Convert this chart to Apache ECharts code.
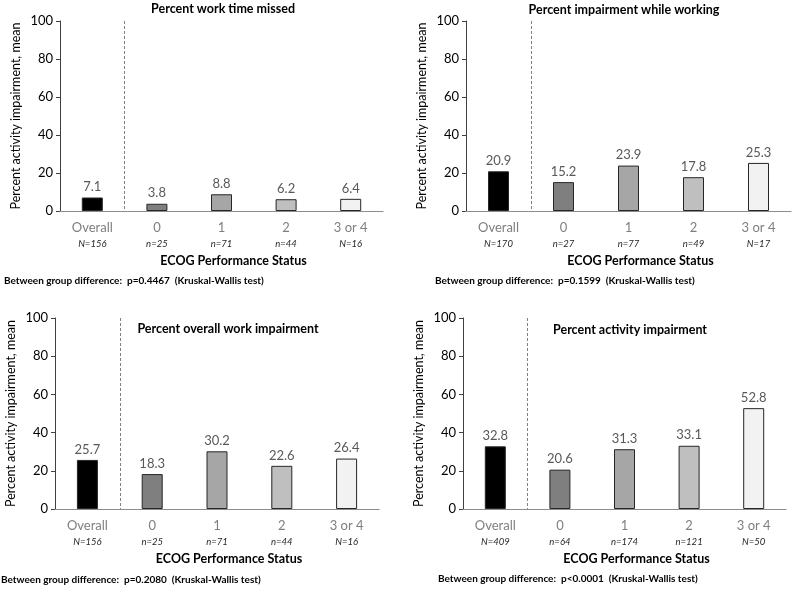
<!DOCTYPE html>
<html>
<head>
<meta charset="utf-8">
<script src="https://cdn.jsdelivr.net/npm/echarts@6/dist/echarts.min.js"></script>
<style>
html,body{margin:0;padding:0;background:#fff;}
#chart{width:793px;height:590px;}
</style>
</head>
<body>
<div id="chart"></div>
<script>
const categories = ['Overall', '0', '1', '2', '3 or 4'];
const barColors = ['#000000', '#7f7f7f', '#a6a6a6', '#bfbfbf', '#f2f2f2'];
const yTicks = { min: 0, max: 100, interval: 20 };

const workTimeMissed = [7.1, 3.8, 8.8, 6.2, 6.4];
const workTimeMissedN = ['N=156', 'n=25', 'n=71', 'n=44', 'N=16'];
const impairmentWhileWorking = [20.9, 15.2, 23.9, 17.8, 25.3];
const impairmentWhileWorkingN = ['N=170', 'n=27', 'n=77', 'n=49', 'N=17'];
const overallWorkImpairment = [25.7, 18.3, 30.2, 22.6, 26.4];
const overallWorkImpairmentN = ['N=156', 'n=25', 'n=71', 'n=44', 'N=16'];
const activityImpairment = [32.8, 20.6, 31.3, 33.1, 52.8];
const activityImpairmentN = ['N=409', 'n=64', 'n=174', 'n=121', 'N=50'];

const panelTitles = ['Percent work time missed', 'Percent impairment while working', 'Percent overall work impairment', 'Percent activity impairment'];
const pValues = ['p=0.4467', 'p=0.1599', 'p=0.2080', 'p<0.0001'];
const xName = 'ECOG Performance Status';
const yName = 'Percent activity impairment, mean';

// half-category slots used only to place the dashed divider after "Overall"
const dividerSlots = ['', '', '', '', '', '', '', '', '', '', ''];
const dividerSlotIndex = 2;

const FONT = 'Lato, "Liberation Sans", sans-serif';

const panels = [
  { values: workTimeMissed, ns: workTimeMissedN, grid: { left: 60, top: 21, width: 323, height: 190 }, title: { x: 223, y: 2 }, foot: { x: 4, y: 272 } },
  { values: impairmentWhileWorking, ns: impairmentWhileWorkingN, grid: { left: 466, top: 21, width: 325, height: 190 }, title: { x: 624, y: 3 }, foot: { x: 435, y: 272 } },
  { values: overallWorkImpairment, ns: overallWorkImpairmentN, grid: { left: 55, top: 318, width: 324, height: 191 }, title: { x: 228, y: 322 }, foot: { x: 1, y: 571 } },
  { values: activityImpairment, ns: activityImpairmentN, grid: { left: 463, top: 318, width: 323, height: 191 }, title: { x: 630, y: 323 }, foot: { x: 438, y: 570 } }
];

const grids = [], xAxes = [], yAxes = [], series = [], titles = [];
panels.forEach((p, i) => {
  grids.push(Object.assign({ containLabel: false }, p.grid));
  xAxes.push({
    type: 'category', gridIndex: i, data: categories,
    axisLine: { lineStyle: { color: '#8c8c8c', width: 1.2 } },
    axisTick: { show: false },
    splitLine: { show: false },
    axisLabel: {
      margin: 8, interval: 0,
      formatter: (v, idx) => '{c|' + v + '}\n{n|' + p.ns[idx] + '}',
      rich: {
        c: { fontFamily: FONT, fontSize: 13, color: '#7f7f7f', lineHeight: 17 },
        n: { fontFamily: FONT, fontSize: 9.5, fontStyle: 'italic', color: '#262626', lineHeight: 15 }
      }
    },
    name: xName, nameLocation: 'middle', nameGap: 43,
    nameTextStyle: { fontFamily: FONT, fontSize: 12.5, fontWeight: 'bold', color: '#000', padding: [0, 0, 0, 24] },
    z: 3
  });
  // hidden helper axis, only draws the dashed divider
  xAxes.push({
    type: 'category', gridIndex: i, data: dividerSlots, boundaryGap: false,
    position: 'bottom',
    axisLine: { show: false }, axisTick: { show: false }, axisLabel: { show: false },
    splitLine: { show: true, interval: (idx) => idx === dividerSlotIndex, lineStyle: { type: [3, 2], color: '#7f7f7f', width: 1 } }
  });
  yAxes.push({
    type: 'value', gridIndex: i, min: yTicks.min, max: yTicks.max, interval: yTicks.interval,
    axisLine: { show: true, lineStyle: { color: '#404040', width: 1 } },
    axisTick: { show: true, length: 4, lineStyle: { color: '#404040' } },
    splitLine: { show: false },
    axisLabel: { fontFamily: FONT, fontSize: 13, color: '#000', margin: 7 },
    name: yName, nameLocation: 'middle', nameGap: 38,
    nameTextStyle: { fontFamily: FONT, fontSize: 12.5, color: '#000' }
  });
  series.push({
    type: 'bar', xAxisIndex: i * 2, yAxisIndex: i, barWidth: 21,
    data: p.values.map((v, k) => ({ value: v, itemStyle: { color: barColors[k] } })),
    itemStyle: { borderColor: '#262626', borderWidth: 1 },
    label: { show: true, position: 'top', distance: 4, fontFamily: FONT, fontSize: 13, color: '#595959', formatter: (d) => d.value.toFixed(1) },
    silent: true, animation: false
  });
  titles.push({
    text: panelTitles[i], left: p.title.x, top: p.title.y, textAlign: 'center', padding: 0,
    textStyle: { fontFamily: FONT, fontSize: 12.5, fontWeight: 'bold', color: '#000' }
  });
  titles.push({
    text: '{b|Between group difference:} {r|' + pValues[i] + '  (Kruskal-Wallis test)}',
    left: p.foot.x, top: p.foot.y, padding: 0,
    textStyle: {
      rich: {
        b: { fontFamily: FONT, fontSize: 10, fontWeight: 'bold', color: '#000' },
        r: { fontFamily: FONT, fontSize: 10, color: '#000' }
      }
    }
  });
});

const chart = echarts.init(document.getElementById('chart'), null, { renderer: 'canvas' });
chart.setOption({
  backgroundColor: '#ffffff',
  animation: false,
  title: titles,
  grid: grids,
  xAxis: xAxes,
  yAxis: yAxes,
  series: series
});
</script>
</body>
</html>
